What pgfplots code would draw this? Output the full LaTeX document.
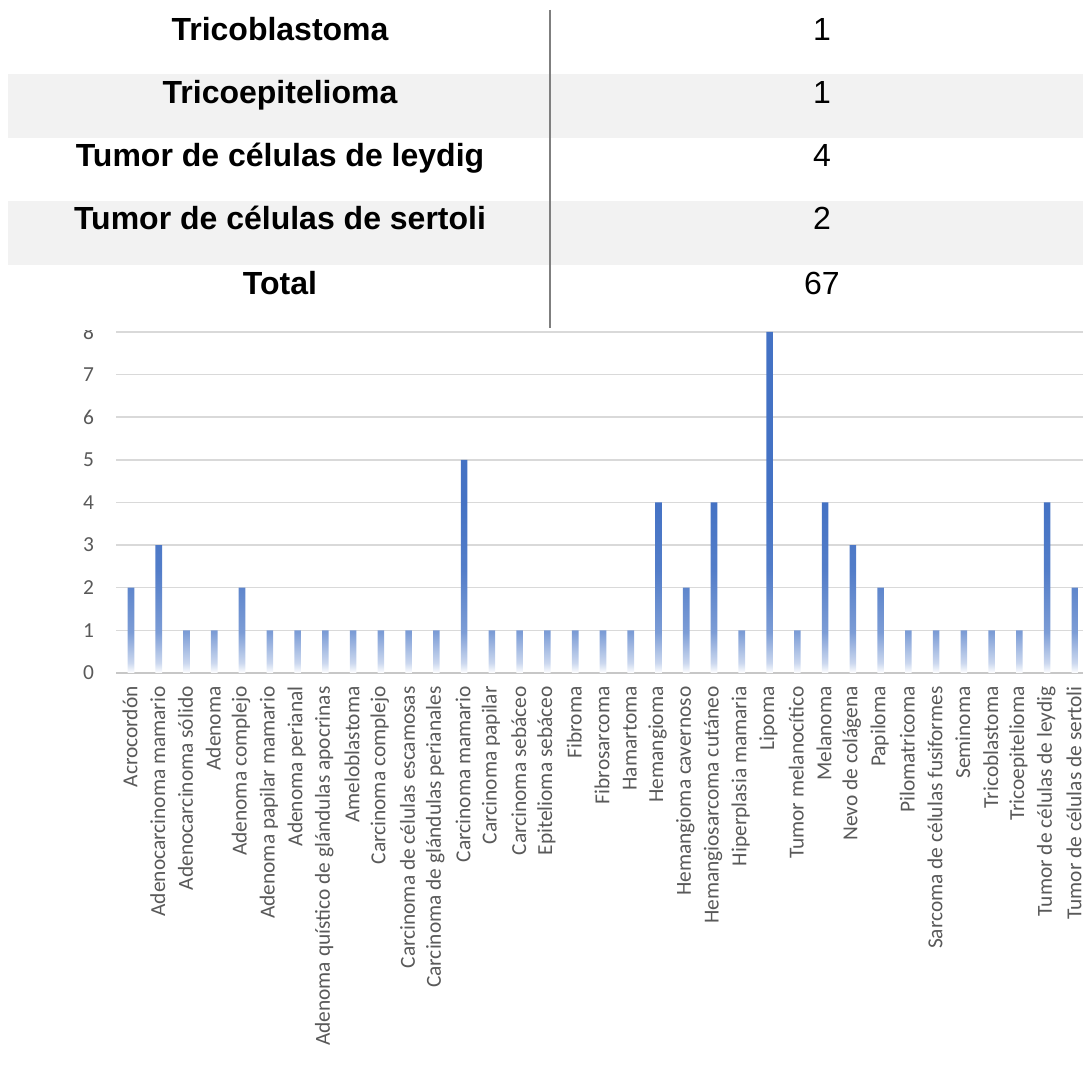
\documentclass[border=0pt]{standalone}
\usepackage{fontspec}
\setmainfont{Liberation Sans}
\newfontfamily\calibri{Carlito}
\usepackage{pgfplots}
\pgfplotsset{compat=1.18}

\definecolor{barblue}{HTML}{4472C4}
\definecolor{ticktext}{HTML}{595959}
\definecolor{gridgray}{HTML}{D9D9D9}
\definecolor{rowgray}{HTML}{F2F2F2}
\definecolor{rulegray}{HTML}{7F7F7F}
\colorlet{fadeA}{barblue!28!white}
\colorlet{fadeB}{barblue!70!white}
\colorlet{fadeC}{barblue!92!white}

% vertical fade for the bars: solid at the top, white at the base
\pgfdeclareverticalshading{barfade}{100bp}{%
  color(0bp)=(white); color(25bp)=(white); color(26.5bp)=(fadeA);
  color(31bp)=(fadeB); color(40bp)=(fadeC); color(50bp)=(barblue);
  color(100bp)=(barblue)}

\begin{document}
\begin{tikzpicture}
\useasboundingbox (0pt,0pt) rectangle (541.5pt,534pt);
\clip (0pt,0pt) rectangle (541.5pt,534pt);

\begin{axis}[
  at={(58pt,197.5pt)}, anchor=south west,
  scale only axis, width=483.5pt, height=172.5pt,
  xmin=-0.54, xmax=34.29, ymin=0, ymax=8.094,
  axis line style={draw=none},
  major tick length=0pt,
  ymajorgrids, grid style={gridgray, line width=0.75pt},
  ytick={0,...,8},
  extra y ticks={0}, extra y tick labels={},
  extra y tick style={grid style={color=black!22, line width=0.8pt}},
  xtick={0,...,34},
  xticklabels={Acrocordón, Adenocarcinoma mamario, Adenocarcinoma sólido,
    Adenoma, Adenoma complejo, Adenoma papilar mamario, Adenoma perianal,
    Adenoma quístico de glándulas apocrinas, Ameloblastoma,
    Carcinoma complejo, Carcinoma de células escamosas,
    Carcinoma de glándulas perianales, Carcinoma mamario,
    Carcinoma papilar, Carcinoma sebáceo, Epitelioma sebáceo, Fibroma,
    Fibrosarcoma, Hamartoma, Hemangioma, Hemangioma cavernoso,
    Hemangiosarcoma cutáneo, Hiperplasia mamaria, Lipoma,
    Tumor melanocítico, Melanoma, Nevo de colágena, Papiloma,
    Pilomatricoma, Sarcoma de células fusiformes, Seminoma,
    Tricoblastoma, Tricoepitelioma, Tumor de células de leydig,
    Tumor de células de sertoli},
  /pgf/number format/assume math mode=true,
  tick label style={font=\calibri\fontsize{10.7}{12}\selectfont, text=ticktext},
  % the labels are turned upright, so their own x runs downwards here
  x tick label style={rotate=90, anchor=east, inner sep=1pt, xshift=-5.5pt, yshift=0.5pt},
  y tick label style={anchor=east, xshift=-7.5pt},
]
\addplot[ybar, bar width=3.3pt, draw=none, shading=barfade] coordinates {
  (0,2) (1,3) (2,1) (3,1) (4,2) (5,1) (6,1) (7,1) (8,1) (9,1)
  (10,1) (11,1) (12,5) (13,1) (14,1) (15,1) (16,1) (17,1) (18,1) (19,4)
  (20,2) (21,4) (22,1) (23,8) (24,1) (25,4) (26,3) (27,2) (28,1) (29,1)
  (30,1) (31,1) (32,1) (33,4) (34,2)};
\end{axis}

% summary table laid over the top of the chart
\begin{scope}[x=0.5pt,y=0.5pt]
\fill[white] (0,738) rectangle (1083,1068);
\fill[rowgray] (8,930) rectangle (1083,994);
\fill[rowgray] (8,803) rectangle (1083,867);
\draw[rulegray, line width=0.6pt] (550,1058) -- (550,740);

\begin{scope}[every node/.style={anchor=base, inner sep=0pt, font=\fontsize{16}{19}\selectfont}]
  \node at (280,1027) {\bfseries Tricoblastoma};
  \node at (280,964)  {\bfseries Tricoepitelioma};
  \node at (280,901)  {\bfseries Tumor de células de leydig};
  \node at (280,838)  {\bfseries Tumor de células de sertoli};
  \node at (280,773)  {\bfseries Total};
  \node at (822,1027) {1};
  \node at (822,964)  {1};
  \node at (822,901)  {4};
  \node at (822,838)  {2};
  \node at (822,773)  {67};
\end{scope}
\end{scope}
\end{tikzpicture}
\end{document}
